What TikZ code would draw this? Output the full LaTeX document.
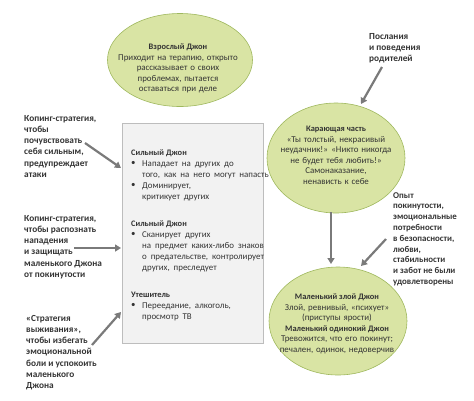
\documentclass[tikz,border=0pt]{standalone}
\usepackage{fontspec}
\setmainfont{Carlito}
\newfontfamily\ellf[WordSpace=2.1]{Carlito}
\newfontfamily\boxf[WordSpace=1.4]{Carlito}
\usetikzlibrary{arrows.meta,shapes.geometric}
\definecolor{ellfill}{HTML}{D9E4A4}
\definecolor{elldraw}{HTML}{9FB85E}
\definecolor{boxfill}{HTML}{F2F2F2}
\definecolor{boxdraw}{HTML}{BDBDBD}
\definecolor{arrgray}{HTML}{7A7A7A}
\definecolor{txt}{HTML}{333333}
\newcommand{\hd}[1]{{\normalfont\fontsize{8.4}{10.5}\selectfont\bfseries #1}}
\tikzset{
  ell/.style={ellipse, draw=elldraw, fill=ellfill, line width=0.6pt, inner sep=0pt},
  elltxt/.style={font=\ellf\fontsize{8.9}{10.5}\selectfont, text=txt, align=center, inner sep=0pt, anchor=north},
  boxtxt/.style={font=\boxf\fontsize{8.9}{11}\selectfont, text=txt, align=left, inner sep=0pt, anchor=north west},
  lbl/.style={font=\bfseries\fontsize{9.3}{11.2}\selectfont, text=txt, align=left, inner sep=0pt, anchor=north west},
  garrow/.style={draw=arrgray, line width=2.2pt, -{Triangle[length=6pt,width=7pt]}}
}
\begin{document}
\begin{tikzpicture}[x=1pt,y=-1pt]
\useasboundingbox (0,0) rectangle (474,400);
% ellipses
\node[ell, minimum width=145pt, minimum height=93pt] (e1) at (180,60) {};
\node[ell, minimum width=138pt, minimum height=110pt] (e2) at (336,158) {};
\node[ell, minimum width=138pt, minimum height=108pt] (e3) at (338,321) {};
\node[elltxt] (t1) at (178,44) {\hd{Взрослый Джон}\\Приходит на терапию, открыто\\рассказывает о своих\\проблемах, пытается\\оставаться при деле};
\node[elltxt] (t2) at (336,126) {\hd{Карающая часть}\\«Ты толстый, некрасивый\\неудачник!» «Никто никогда\\не будет тебя любить!»\\Самонаказание,\\ненависть к себе};
\node[elltxt] (t3) at (337,294) {\hd{Маленький злой Джон}\\Злой, ревнивый, «психует»\\(приступы ярости)\\\hd{Маленький одинокий Джон}\\Тревожится, что его покинут;\\печален, одинок, недоверчив};
% box
\node[draw=boxdraw, fill=boxfill, line width=0.6pt, minimum width=141pt, minimum height=220pt, anchor=north west, inner sep=0pt] (box) at (122,123) {};
\node[boxtxt] (h1) at (131,150) {\hd{Сильный Джон}};
\node[boxtxt] (b1) at (131,161) {•\\[11pt]•};
\node[boxtxt] (s1) at (142,161) {Нападает на других до\\того, как на него могут напасть\\Доминирует,\\критикует других};
\node[boxtxt] (h2) at (131,221) {\hd{Сильный Джон}};
\node[boxtxt] (b2) at (131,232) {•};
\node[boxtxt] (s2) at (142,232) {Сканирует других\\на предмет каких-либо знаков\\о предательстве, контролирует\\других, преследует};
\node[boxtxt] (h3) at (131,292) {\hd{Утешитель}};
\node[boxtxt] (b3) at (131,303) {•};
\node[boxtxt] (s3) at (142,303) {Переедание, алкоголь,\\просмотр ТВ};
% left labels
\node[lbl] (l1) at (24,115) {Копинг-стратегия,\\чтобы\\почувствовать\\себя сильным,\\предупреждает\\атаки};
\node[lbl] (l2) at (24,215) {Копинг-стратегия,\\чтобы распознать\\нападения\\и защищать\\маленького Джона\\от покинутости};
\node[lbl] (l3) at (26,315) {«Стратегия\\выживания»,\\чтобы избегать\\эмоциональной\\боли и успокоить\\маленького\\Джона};
% right labels
\node[lbl] (l4) at (369,33) {Послания\\и поведения\\родителей};
\node[lbl, font=\bfseries\fontsize{8.9}{10.8}\selectfont] (l5) at (393,192) {Опыт\\покинутости,\\эмоциональные\\потребности\\в безопасности,\\любви,\\стабильности\\и забот не были\\удовлетворены};
% connector ends
\coordinate (a1s) at (85,143);  \coordinate (a1e) at (121,168);
\coordinate (a2s) at (74,248);  \coordinate (a2e) at (121,248);
\coordinate (a3s) at (92,345);  \coordinate (a3e) at (121,312);
\coordinate (a4s) at (382,67);  \coordinate (a4e) at (361,104);
\coordinate (a5s) at (386,239); \coordinate (a5e) at (361,266);
\coordinate (a6s) at (331,212); \coordinate (a6e) at (331,264);
\draw[garrow] (a1s) -- (a1e);
\draw[garrow] (a2s) -- (a2e);
\draw[garrow] (a3s) -- (a3e);
\draw[garrow] (a4s) -- (a4e);
\draw[garrow] (a5s) -- (a5e);
\draw[garrow] (a6s) -- (a6e);
\end{tikzpicture}
\end{document}
